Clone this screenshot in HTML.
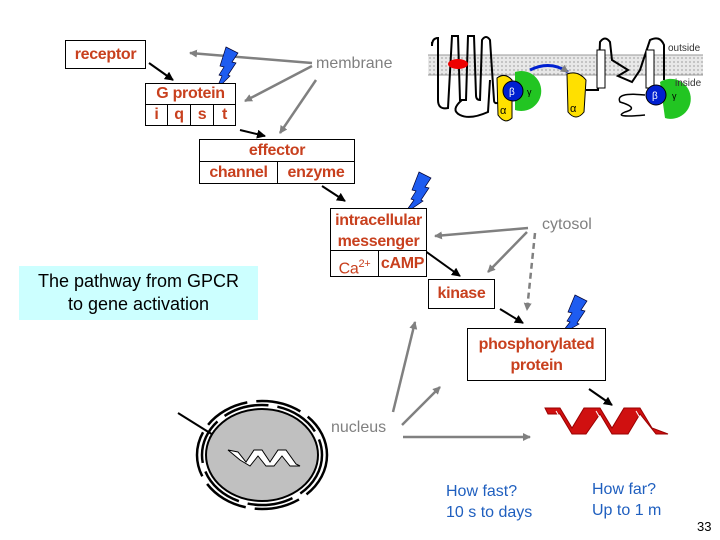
<!DOCTYPE html>
<html><head><style>
body{margin:0;width:720px;height:540px;background:#fff;position:relative;overflow:hidden;font-family:"Liberation Sans",Arial,sans-serif}
.b{position:absolute;border:1px solid #000;box-sizing:border-box;color:#c8401e;font-size:16px;font-weight:bold;text-align:center;background:#fff;letter-spacing:-0.3px}
.t{position:absolute;white-space:nowrap}
</style></head><body>
<svg width="720" height="540" style="position:absolute;left:0;top:0">
<defs>
<marker id="ag" markerWidth="8" markerHeight="8" refX="7" refY="4" orient="auto" markerUnits="userSpaceOnUse"><path d="M0,0L8,4L0,8z" fill="#808080"/></marker>
<marker id="ak" markerWidth="9" markerHeight="9" refX="8" refY="4.5" orient="auto" markerUnits="userSpaceOnUse"><path d="M0,0L9,4.5L0,9z" fill="#000"/></marker>
<pattern id="mp" width="4" height="4" patternUnits="userSpaceOnUse"><rect width="4" height="4" fill="#e8e8e8"/><circle cx="2" cy="2" r="0.9" fill="#aaa"/></pattern>
</defs>
<rect x="428" y="55" width="275" height="20" fill="url(#mp)"/>
<line x1="428" y1="55" x2="703" y2="55" stroke="#999"/><line x1="428" y1="75" x2="703" y2="75" stroke="#999"/>
<path d="M432,42 L432,46 Q432,38 438,38 L438,100 Q438,110 448,108 L452,36 L458,36 L460,100 L466,100 L468,36 L474,36 L476,95 Q476,100 480,100 L482,40 Q486,34 490,40 L494,100 Q494,105 500,102" fill="none" stroke="#000" stroke-width="2"/>
<path d="M462,100 Q450,110 460,115 Q470,120 488,112 L490,80" fill="none" stroke="#000" stroke-width="2"/>
<ellipse cx="458" cy="64" rx="10" ry="5" fill="#e00"/>
<path d="M515,72 A20,20 0 1 1 515,110 Z" fill="#22c522"/>
<path d="M497,78 Q505,72 512,80 L512,118 Q505,125 498,115 Z" fill="#ffe000" stroke="#000"/>
<circle cx="513" cy="91" r="10" fill="#0020d0" stroke="#000"/>
<text x="500" y="114" font-size="11" fill="#000">α</text><text x="509" y="95" font-size="10" fill="#fff">β</text><text x="527" y="95" font-size="9" fill="#000">γ</text>
<path d="M530,70 Q550,60 568,72" fill="none" stroke="#0020d0" stroke-width="3" marker-end="url(#ag)"/>
<path d="M567,74 Q578,70 586,80 L584,112 Q576,122 568,112 Z" fill="#ffe000" stroke="#000"/>
<text x="570" y="112" font-size="11" fill="#000">α</text>
<path d="M586,90 L598,90 L600,42 Q605,35 610,42 L612,60 L628,70 L618,76 L632,82 L640,70 L650,40 Q660,35 664,45 L664,80" fill="none" stroke="#000" stroke-width="2"/>
<rect x="597" y="50" width="8" height="38" fill="#fff" stroke="#000"/>
<rect x="646" y="50" width="8" height="38" fill="#fff" stroke="#000"/>
<path d="M660,82 A20,20 0 1 1 665,118 Z" fill="#22c522"/>
<circle cx="656" cy="95" r="10" fill="#0020d0" stroke="#000"/>
<text x="652" y="99" font-size="10" fill="#fff">β</text><text x="672" y="99" font-size="9">γ</text>
<path d="M645,95 Q615,92 620,102 Q640,108 625,112 Q612,118 645,115" fill="none" stroke="#000" stroke-width="1.5"/>
<text x="668" y="51" font-size="10" fill="#333">outside</text><text x="675" y="86" font-size="10" fill="#333">inside</text>
<g stroke="#808080" stroke-width="2.5" fill="none" marker-end="url(#ag)">
<line x1="312" y1="63" x2="190" y2="53"/>
<line x1="312" y1="66" x2="245" y2="101"/>
<line x1="316" y1="80" x2="280" y2="133"/>
<line x1="528" y1="228" x2="435" y2="236"/>
<line x1="527" y1="232" x2="488" y2="272"/>
<line x1="535" y1="233" x2="527" y2="310" stroke-dasharray="6,4"/>
<line x1="393" y1="412" x2="415" y2="322"/>
<line x1="402" y1="425" x2="440" y2="387"/>
<line x1="403" y1="437" x2="530" y2="437"/>
</g>
<g stroke="#000" stroke-width="2" fill="none" marker-end="url(#ak)">
<line x1="149" y1="63" x2="173" y2="80"/>
<line x1="240" y1="130" x2="265" y2="136"/>
<line x1="322" y1="186" x2="345" y2="201"/>
<line x1="421" y1="248" x2="460" y2="276"/>
<line x1="500" y1="309" x2="523" y2="323"/>
<line x1="589" y1="389" x2="612" y2="405"/>
<line x1="178" y1="413" x2="218" y2="438"/>
</g>
<g fill="#1e5cf0" stroke="#003" stroke-width="0.7">
<polygon points="226,47 238,53 232,62 236,63 228,75 230,76 216,90 222,76 219,75 224,67 220,66"/>
<polygon points="419,172 431,178 425,187 429,188 421,200 423,201 404,214 414,200 411,199 416,191 412,190"/>
<polygon points="575,295 587,301 581,310 585,311 577,323 579,324 560,335 570,322 567,321 572,313 568,312"/>
</g>
<ellipse cx="262" cy="455" rx="56" ry="46" fill="#c0c0c0" stroke="#000" stroke-width="2"/>
<g fill="none" stroke="#000" stroke-width="2.5" stroke-dasharray="46,9">
<ellipse cx="262" cy="455" rx="60" ry="50"/>
<ellipse cx="262" cy="455" rx="65" ry="54"/>
</g>
<path d="M228,450 L238,452 L246,462 L254,450 L262,450 L270,462 L278,450 L286,450 L296,464 L300,466 L290,466 L282,456 L274,466 L266,466 L258,456 L250,466 L240,460 Z" fill="#fff" stroke="#000" stroke-width="1"/>
<path d="M545,408 L560,408 L572,428 L584,408 L600,408 L612,428 L624,408 L640,408 L652,428 L668,434 L656,434 L640,414 L628,434 L612,434 L600,414 L586,434 L572,434 L560,414 L548,414 Z" fill="#d01010" stroke="#900" stroke-width="1"/>
<g stroke="#fff" stroke-width="1"><line x1="556" y1="411" x2="566" y2="428"/><line x1="596" y1="411" x2="606" y2="428"/><line x1="636" y1="411" x2="646" y2="428"/></g>
</svg>
<div class="b" style="left:65px;top:40px;width:81px;height:29px;line-height:27px">receptor</div>
<div class="t" style="left:316px;top:55px;font-size:16px;color:#808080">membrane</div>
<div class="b" style="left:145px;top:83px;width:91px;height:22px;line-height:20px">G protein</div>
<div class="b" style="left:145px;top:104px;width:23px;height:22px;line-height:20px">i</div>
<div class="b" style="left:167px;top:104px;width:24px;height:22px;line-height:20px">q</div>
<div class="b" style="left:190px;top:104px;width:24px;height:22px;line-height:20px">s</div>
<div class="b" style="left:213px;top:104px;width:23px;height:22px;line-height:20px">t</div>
<div class="b" style="left:199px;top:139px;width:156px;height:23px;line-height:22px">effector</div>
<div class="b" style="left:199px;top:161px;width:79px;height:23px;line-height:22px">channel</div>
<div class="b" style="left:277px;top:161px;width:78px;height:23px;line-height:22px">enzyme</div>
<div class="b" style="left:330px;top:208px;width:97px;height:43px;line-height:21px;padding-top:1px">intracellular<br>messenger</div>
<div class="b" style="left:330px;top:250px;width:49px;height:27px;line-height:26px;font-weight:normal">Ca<sup style="font-size:11px">2+</sup></div>
<div class="b" style="left:378px;top:250px;width:49px;height:27px;line-height:26px">cAMP</div>
<div class="b" style="left:428px;top:279px;width:67px;height:30px;line-height:28px">kinase</div>
<div class="b" style="left:467px;top:328px;width:139px;height:53px;line-height:21px;padding-top:5px">phosphorylated<br>protein</div>
<div class="t" style="left:542px;top:216px;font-size:16px;color:#808080">cytosol</div>
<div style="position:absolute;left:19px;top:266px;width:239px;height:54px;background:#ccffff;font-size:18px;text-align:center;line-height:23px;padding-top:4px;box-sizing:border-box">The pathway from GPCR<br>to gene activation</div>
<div class="t" style="left:331px;top:419px;font-size:16px;color:#808080">nucleus</div>
<div class="t" style="left:446px;top:481px;font-size:16px;color:#1f5fbf;line-height:21px">How fast?<br>10 s to days</div>
<div class="t" style="left:592px;top:479px;font-size:16px;color:#1f5fbf;line-height:21px">How far?<br>Up to 1 m</div>
<div class="t" style="left:697px;top:519px;font-size:13px">33</div>
</body></html>
